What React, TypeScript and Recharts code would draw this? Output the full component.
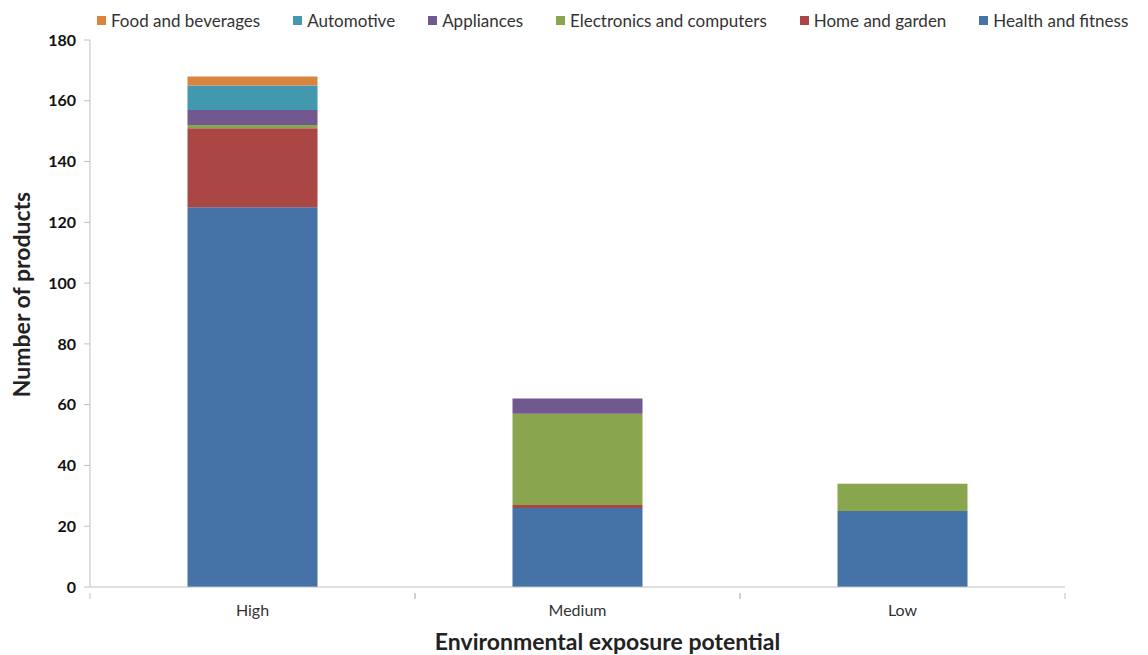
import React from 'react';
import { BarChart, Bar, XAxis, YAxis, Legend, Label } from 'recharts';

// Products per exposure level, split by product category
const levels = ['High', 'Medium', 'Low'];
const healthFitness = [125, 26, 25];
const homeGarden = [26, 1, 0];
const electronics = [1, 30, 9];
const appliances = [5, 5, 0];
const automotive = [8, 0, 0];
const foodBeverages = [3, 0, 0];
const yTicks = [0, 20, 40, 60, 80, 100, 120, 140, 160, 180];

// stacking order, bottom to top
const series = [
  { key: 'health', name: 'Health and fitness', color: '#4572A7', values: healthFitness },
  { key: 'home', name: 'Home and garden', color: '#AA4643', values: homeGarden },
  { key: 'electronics', name: 'Electronics and computers', color: '#89A54E', values: electronics },
  { key: 'appliances', name: 'Appliances', color: '#71588F', values: appliances },
  { key: 'automotive', name: 'Automotive', color: '#4198AF', values: automotive },
  { key: 'food', name: 'Food and beverages', color: '#DB843D', values: foodBeverages },
];

const data = levels.map((level, i) => {
  const row: Record<string, string | number> = { level };
  series.forEach((s) => {
    row[s.key] = s.values[i];
  });
  return row;
});

const W = 1148;
const H = 655;
const MARGIN = { top: 12, right: 83, bottom: 0, left: 0 };
const Y_AXIS_W = 90;
const BAND = (W - MARGIN.left - MARGIN.right - Y_AXIS_W) / levels.length;
const FONT = 'Lato, "Open Sans", sans-serif';
const AXIS_COLOR = '#BFBFBF';

// category label plus the small tick marks at the band edges
const XTick = (props: any) => {
  const { x, y, payload } = props;
  const axisY = y - 10;
  return (
    <g>
      <line x1={x - BAND / 2} y1={axisY} x2={x - BAND / 2} y2={axisY + 6} stroke={AXIS_COLOR} />
      <line x1={x + BAND / 2} y1={axisY} x2={x + BAND / 2} y2={axisY + 6} stroke={AXIS_COLOR} />
      <text x={x} y={y + 13} textAnchor="middle" fill="#333" fontSize={16} fontFamily={FONT}>
        {payload.value}
      </text>
    </g>
  );
};

// legend lists the categories top of stack first
const LegendRow = () => {
  const items = [...series].reverse();
  return (
    <div
      style={{
        display: 'flex',
        alignItems: 'center',
        height: 28,
        paddingLeft: 97,
        gap: 33,
        fontFamily: FONT,
        fontSize: 17,
        color: '#333',
      }}
    >
      {items.map((item) => (
        <div key={item.key} style={{ display: 'flex', alignItems: 'center' }}>
          <span style={{ width: 9, height: 9, background: item.color, marginRight: 5 }} />
          <span>{item.name}</span>
        </div>
      ))}
    </div>
  );
};

export default function App() {
  return (
    <div style={{ position: 'fixed', left: 0, top: 0, width: W, height: H, background: '#fff' }}>
      <BarChart width={W} height={H} data={data} margin={MARGIN} barCategoryGap="30%">
        <Legend
          verticalAlign="top"
          align="left"
          content={<LegendRow />}
          wrapperStyle={{ top: 6, left: 0, width: W }}
        />
        <XAxis
          dataKey="level"
          height={68}
          stroke={AXIS_COLOR}
          tickLine={false}
          tick={<XTick />}
          tickMargin={10}
        >
          <Label
            content={(p: any) => (
              <text
                x={p.viewBox.x + p.viewBox.width / 2 + 30}
                y={p.viewBox.y + 63}
                textAnchor="middle"
                fontSize={23}
                fontWeight="bold"
                fill="#222"
                fontFamily={FONT}
              >
                Environmental exposure potential
              </text>
            )}
          />
        </XAxis>
        <YAxis
          width={Y_AXIS_W}
          domain={[0, 180]}
          ticks={yTicks}
          interval={0}
          stroke={AXIS_COLOR}
          tickSize={6}
          tickMargin={8}
          tick={{ fill: '#111', fontSize: 16, fontWeight: 'bold', fontFamily: FONT }}
        >
          <Label
            content={(p: any) => {
              const cx = 21;
              const cy = p.viewBox.y + p.viewBox.height / 2 - 19;
              return (
                <text
                  x={cx}
                  y={cy}
                  transform={`rotate(-90, ${cx}, ${cy})`}
                  textAnchor="middle"
                  dominantBaseline="central"
                  fontSize={23}
                  fontWeight="bold"
                  fill="#222"
                  fontFamily={FONT}
                >
                  Number of products
                </text>
              );
            }}
          />
        </YAxis>
        {series.map((s) => (
          <Bar key={s.key} dataKey={s.key} name={s.name} stackId="a" fill={s.color} isAnimationActive={false} />
        ))}
      </BarChart>
    </div>
  );
}
